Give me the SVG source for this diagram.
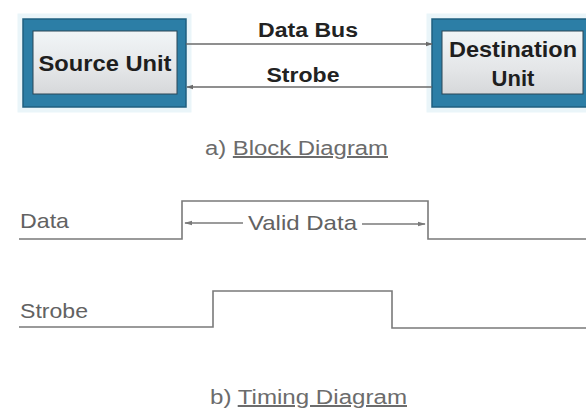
<svg xmlns="http://www.w3.org/2000/svg" width="586" height="411" viewBox="0 0 586 411">
  <defs>
    <linearGradient id="innerFill" x1="0" y1="0" x2="0" y2="1">
      <stop offset="0" stop-color="#f1f5f7"/>
      <stop offset="0.6" stop-color="#e4e6e8"/>
      <stop offset="1" stop-color="#d6d8da"/>
    </linearGradient>
    <marker id="arr" viewBox="0 0 10 10" refX="9" refY="5" markerWidth="7" markerHeight="7" orient="auto-start-reverse" markerUnits="userSpaceOnUse">
      <path d="M0,1.5 L10,5 L0,8.5 z" fill="#6a6a6a"/>
    </marker>
    <marker id="arrT" viewBox="0 0 10 10" refX="9" refY="5" markerWidth="8" markerHeight="8" orient="auto-start-reverse" markerUnits="userSpaceOnUse">
      <path d="M0,2 L10,5 L0,8 z" fill="#7a7a7a"/>
    </marker>
  </defs>
  <style>
    .glow { fill: none; stroke: #eaf5f9; stroke-width: 5; }
    .outer { fill: #2c7ea6; stroke: #1e5f7f; stroke-width: 1.5; }
    .inner { fill: url(#innerFill); stroke: #2b4656; stroke-width: 1; }
    .boxtxt { font-family: "Liberation Sans", Arial, sans-serif; font-weight: bold; font-size: 22px; fill: #1e1e1e; text-anchor: middle; }
    .bustxt { font-family: "Liberation Sans", Arial, sans-serif; font-weight: bold; font-size: 20px; fill: #222; text-anchor: middle; }
    .conn { stroke: #6a6a6a; stroke-width: 1.4; fill: none; }
    .wave { stroke: #7a7a7a; stroke-width: 1.6; fill: none; }
    .ttxt { font-family: "Liberation Sans", Arial, sans-serif; font-size: 21px; fill: #626262; }
    .cap { font-family: "Liberation Sans", Arial, sans-serif; font-size: 20px; fill: #6c6c6c; }
  </style>
  <rect width="586" height="411" fill="#ffffff"/>

  <g id="source-unit">
    <rect class="glow" x="20" y="16" width="169" height="94"/>
    <rect class="outer" x="23" y="19" width="163" height="88"/>
    <rect class="inner" x="33" y="31" width="144" height="63"/>
    <text class="boxtxt" x="105" y="71" textLength="133" lengthAdjust="spacingAndGlyphs">Source Unit</text>
  </g>

  <g id="destination-unit">
    <rect class="glow" x="429" y="16" width="166" height="94"/>
    <rect class="outer" x="432" y="19" width="160" height="88"/>
    <rect class="inner" x="442" y="31" width="141" height="63"/>
    <text class="boxtxt" x="513" y="57" textLength="128" lengthAdjust="spacingAndGlyphs">Destination</text>
    <text class="boxtxt" x="513" y="86">Unit</text>
  </g>

  <g id="connectors">
    <line class="conn" x1="186" y1="44" x2="432" y2="44" marker-end="url(#arr)"/>
    <text class="bustxt" x="308" y="37" textLength="100" lengthAdjust="spacingAndGlyphs">Data Bus</text>
    <line class="conn" x1="432" y1="87" x2="187" y2="87" marker-end="url(#arr)"/>
    <text class="bustxt" x="303" y="82" textLength="73" lengthAdjust="spacingAndGlyphs">Strobe</text>
  </g>

  <text class="cap" x="205" y="155" textLength="183" lengthAdjust="spacingAndGlyphs">a) <tspan text-decoration="underline">Block Diagram</tspan></text>

  <g id="timing">
    <text class="ttxt" x="20" y="228" textLength="49" lengthAdjust="spacingAndGlyphs">Data</text>
    <path class="wave" d="M19,239 H182 V201 H428 V239 H586"/>
    <line class="wave" x1="243" y1="223" x2="185" y2="223" marker-end="url(#arrT)" stroke-width="1.3"/>
    <text class="ttxt" x="248" y="230" textLength="109" lengthAdjust="spacingAndGlyphs">Valid Data</text>
    <line class="wave" x1="362" y1="224" x2="425" y2="224" marker-end="url(#arrT)" stroke-width="1.3"/>

    <text class="ttxt" x="20" y="318" textLength="68" lengthAdjust="spacingAndGlyphs">Strobe</text>
    <path class="wave" d="M19,327 H213 V291 H392 V328 H586"/>
  </g>

  <text class="cap" x="210" y="404" textLength="197" lengthAdjust="spacingAndGlyphs">b) <tspan text-decoration="underline">Timing Diagram</tspan></text>
</svg>
